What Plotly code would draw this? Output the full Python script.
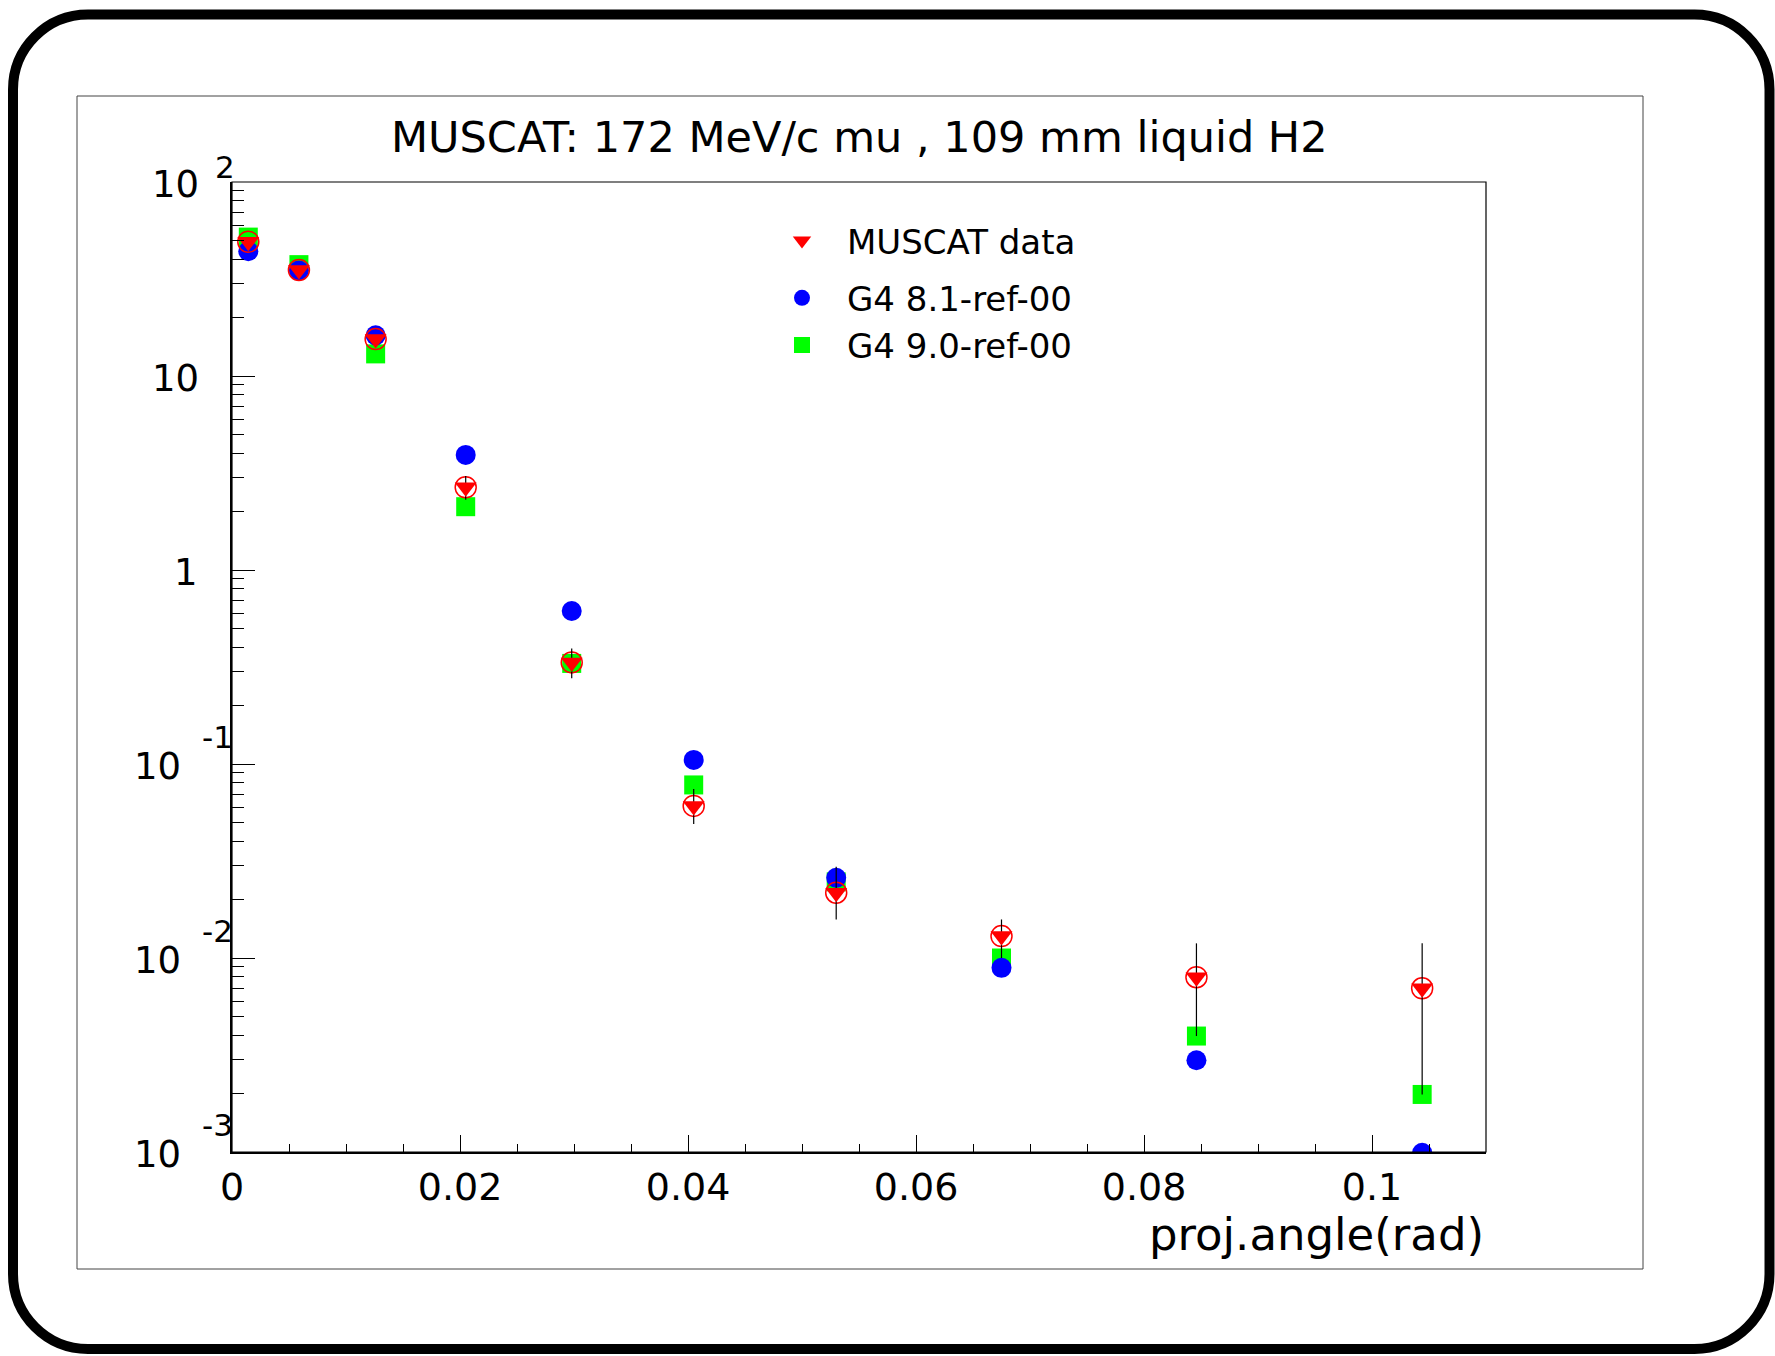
import plotly.graph_objects as go
import numpy as np

# ---------------- data ----------------
angle = [0.00143, 0.00587, 0.0126, 0.0205, 0.0298, 0.0405, 0.0530, 0.0675, 0.0846, 0.1044]

muscat = [49.2, 35.2, 15.5, 2.67, 0.334, 0.0608, 0.0217, 0.01297, 0.00796, 0.00698]
muscat_hi = [50.7, 36.4, 16.2, 3.05, 0.394, 0.0743, 0.0295, 0.0158, 0.0119, 0.0119]
muscat_lo = [47.7, 34.0, 14.8, 2.30, 0.277, 0.0491, 0.0158, 0.0100, 0.00396, 0.00198]

g4_81 = [44.0, 35.0, 16.2, 3.92, 0.615, 0.105, 0.0259, 0.0089, 0.00297, 0.00099]
g4_90 = [52.0, 37.5, 13.0, 2.12, 0.33, 0.078, 0.0247, 0.0100, 0.00396, 0.00198]

title_text = "MUSCAT: 172 MeV/c mu , 109 mm liquid H2"
xaxis_title = "proj.angle(rad)"
y_tick_vals = [1e-3, 1e-2, 1e-1, 1, 10, 100]
y_tick_mant = ["10", "10", "10", "1", "10", "10"]
y_tick_exp = ["-3", "-2", "-1", "", "", "2"]
legend_names = ["MUSCAT data", "G4 8.1-ref-00", "G4 9.0-ref-00"]

FONT = "DejaVu Sans"
W, H = 1775, 1356
L, R, T, B = 232, 1486, 182, 1152  # plot area in pixels
PW, PH = R - L, B - T


def px(xp):
    return (xp - L) / PW


def py(yp):
    return (B - yp) / PH


err_plus = [h - v for h, v in zip(muscat_hi, muscat)]
err_minus = [v - l for v, l in zip(muscat, muscat_lo)]

fig = go.Figure()

fig.add_trace(go.Scatter(
    x=angle, y=g4_90, mode="markers", name=legend_names[2],
    marker=dict(symbol="square", color="#00ff00", size=19, line=dict(width=0)),
    legendgroup="g4", legendrank=3,
))
fig.add_trace(go.Scatter(
    x=angle, y=g4_81, mode="markers", name=legend_names[1],
    marker=dict(symbol="circle", color="#0000ff", size=20, line=dict(width=0)),
    legendgroup="g4", legendrank=2,
))
fig.add_trace(go.Scatter(
    x=angle, y=muscat, mode="markers", name="open", showlegend=False,
    marker=dict(symbol="circle-open", color="#ff0000", size=21, line=dict(width=1.5, color="#ff0000")),
))
fig.add_trace(go.Scatter(
    x=angle, y=muscat, mode="markers", name=legend_names[0],
    marker=dict(symbol="triangle-down", color="#ff0000", size=19, line=dict(width=0)),
    error_y=dict(type="data", symmetric=False, array=err_plus, arrayminus=err_minus,
                 color="black", thickness=1.2, width=0),
    legendgroup="data", legendrank=1,
))

# ---------------- decorations ----------------
shapes = []
# outer rounded frame
x0, x1, y0, y1, r = 13, 1769.5, 14.5, 1349, 75
k = 0.5523 * r


def P(a, b):
    return f"{px(a):.5f},{py(b):.5f}"


path = (f"M {P(x0 + r, y0)} L {P(x1 - r, y0)} "
        f"C {P(x1 - r + k, y0)} {P(x1, y0 + r - k)} {P(x1, y0 + r)} "
        f"L {P(x1, y1 - r)} "
        f"C {P(x1, y1 - r + k)} {P(x1 - r + k, y1)} {P(x1 - r, y1)} "
        f"L {P(x0 + r, y1)} "
        f"C {P(x0 + r - k, y1)} {P(x0, y1 - r + k)} {P(x0, y1 - r)} "
        f"L {P(x0, y0 + r)} "
        f"C {P(x0, y0 + r - k)} {P(x0 + r - k, y0)} {P(x0 + r, y0)} Z")
shapes.append(dict(type="path", xref="paper", yref="paper", path=path,
                   line=dict(color="black", width=10), layer="below"))
# inner pad frame
shapes.append(dict(type="rect", xref="paper", yref="paper",
                   x0=px(77), x1=px(1643), y0=py(1269), y1=py(96),
                   line=dict(color="#444444", width=1), layer="below"))
# plot frame
shapes.append(dict(type="rect", xref="paper", yref="paper", x0=0, x1=1, y0=0, y1=1,
                   line=dict(color="black", width=1.2), layer="above"))

annotations = []
annotations.append(dict(text=title_text, xref="paper", yref="paper", x=0.5, y=py(137),
                        xanchor="center", yanchor="middle", showarrow=False,
                        font=dict(family=FONT, size=43, color="black")))
annotations.append(dict(text=xaxis_title, xref="paper", yref="paper", x=px(1486), y=py(1234),
                        xanchor="right", yanchor="middle", showarrow=False,
                        font=dict(family=FONT, size=45, color="black")))
for v, m, e in zip(y_tick_vals, y_tick_mant, y_tick_exp):
    neg = e.startswith("-")
    right = 183 if neg else (200 if m == "1" else 201)
    annotations.append(dict(text=m, xref="paper", yref="y", x=px(right), y=np.log10(v),
                            xanchor="right", yanchor="middle", yshift=-2, showarrow=False,
                            font=dict(family=FONT, size=37, color="black")))
    if e:
        annotations.append(dict(text=e, xref="paper", yref="y", x=px(200 if neg else 213),
                                y=np.log10(v), xanchor="left", yanchor="middle",
                                yshift=(27 if neg else 15), showarrow=False,
                                font=dict(family=FONT, size=31, color="black")))

fig.update_layout(
    width=W, height=H,
    margin=dict(l=L, r=W - R, t=T, b=H - B, pad=0),
    paper_bgcolor="white", plot_bgcolor="white",
    font=dict(family=FONT, size=34, color="black"),
    showlegend=True,
    legend=dict(x=px(757), y=py(212), xanchor="left", yanchor="top",
                bgcolor="rgba(0,0,0,0)", borderwidth=0, tracegroupgap=10,
                itemwidth=80, font=dict(family=FONT, size=34, color="black")),
    shapes=shapes, annotations=annotations,
    hovermode=False,
)

fig.update_xaxes(
    range=[0, 0.11], tick0=0, dtick=0.02, showgrid=False, zeroline=False,
    showline=True, linecolor="black", linewidth=2, mirror=False,
    ticks="inside", ticklen=17, tickwidth=1, tickcolor="black",
    tickfont=dict(family=FONT, size=38, color="black"),
    minor=dict(ticks="inside", ticklen=8, tickwidth=1, tickcolor="black", dtick=0.005, tick0=0, showgrid=False),
)
fig.update_yaxes(
    type="log", range=[-3, 2], tick0=0, dtick=1, showgrid=False, zeroline=False,
    showline=True, linecolor="black", linewidth=2, mirror=False,
    ticks="inside", ticklen=23, tickwidth=1, tickcolor="black", showticklabels=False,
    minor=dict(ticks="inside", ticklen=12, tickwidth=1, tickcolor="black", dtick="D1", showgrid=False),
)

fig.write_html("out.html", config={"displayModeBar": False},
               post_script="document.body.style.margin='0';document.body.style.overflow='hidden';")
